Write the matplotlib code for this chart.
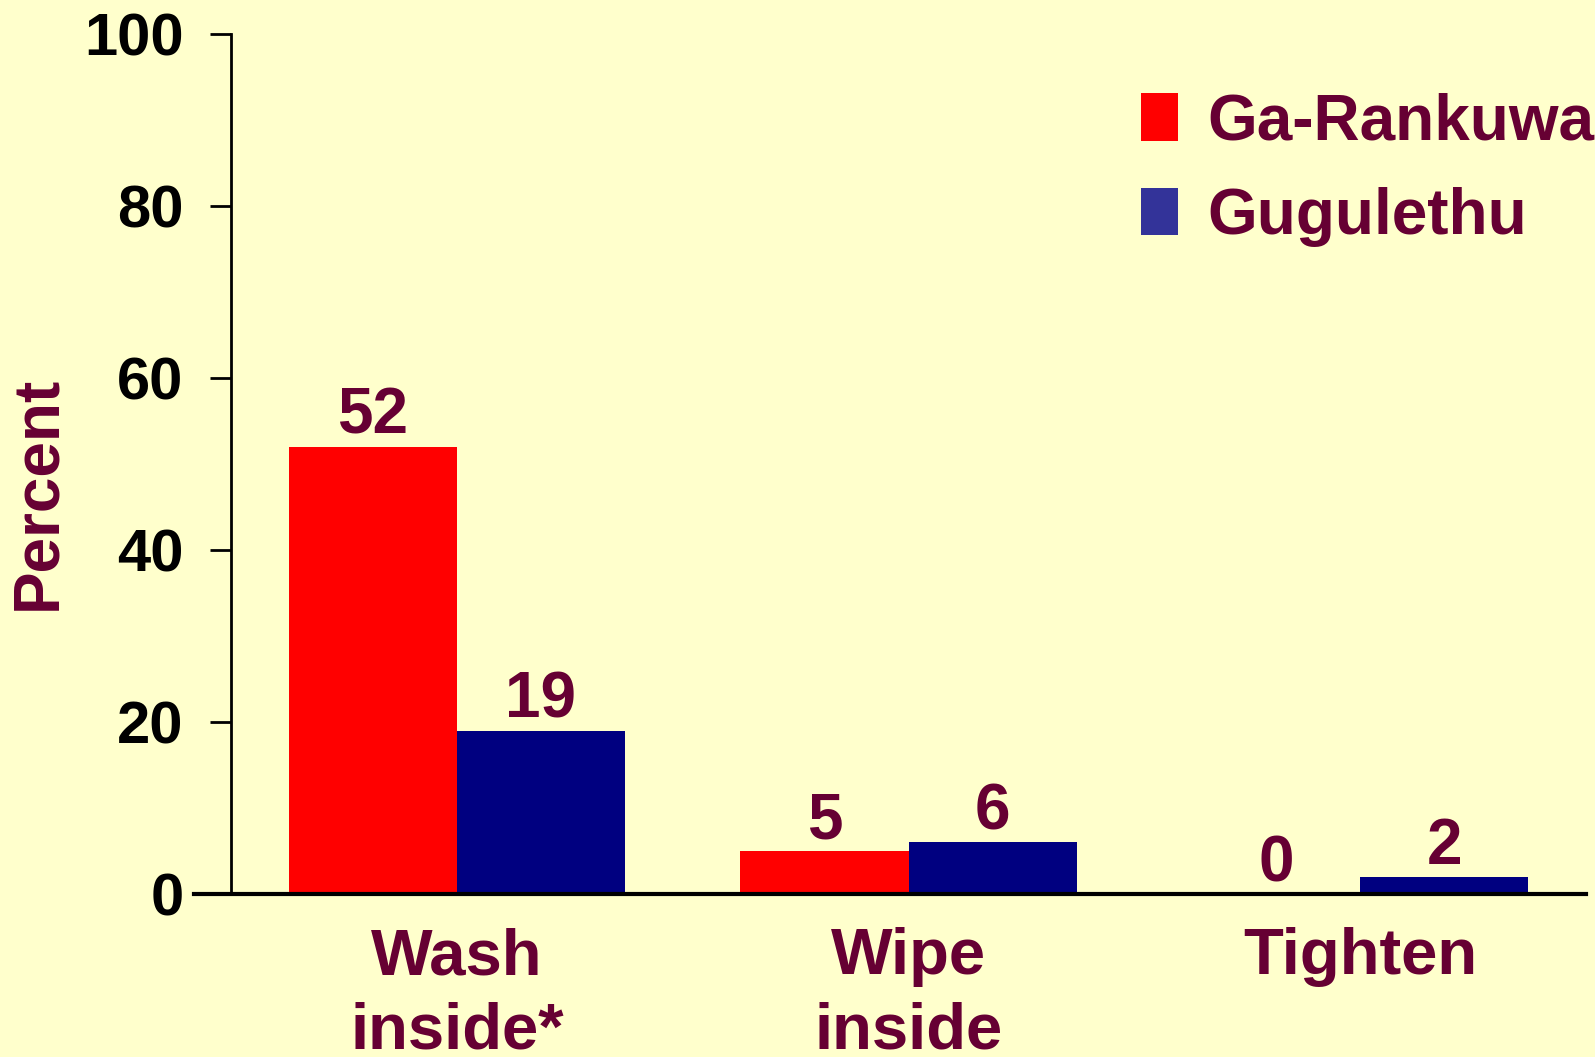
import numpy as np
import matplotlib
matplotlib.use('Agg')
import matplotlib.pyplot as plt
from matplotlib.patches import Patch

# data
categories = ['Wash\ninside*', 'Wipe\ninside', 'Tighten']
series_names = ['Ga-Rankuwa', 'Gugulethu']
ga_rankuwa = [52, 5, 0]
gugulethu = [19, 6, 2]

bg = '#FFFFCC'
maroon = '#660033'
red = '#FF0000'
navy = '#000080'

plt.rcParams['font.family'] = ['Liberation Sans', 'DejaVu Sans']
plt.rcParams['font.weight'] = 'bold'

fig = plt.figure(figsize=(15.95, 10.57), dpi=100, facecolor=bg)
ax = fig.add_axes([0.1448, 0.1542, 0.8496, 0.8138], facecolor=bg)

x = np.arange(len(categories))
w = 0.372
b1 = ax.bar(x - w / 2, ga_rankuwa, w, color=red)
b2 = ax.bar(x + w / 2, gugulethu, w, color=navy)

# value labels above bars
for bars, vals in [(b1, ga_rankuwa), (b2, gugulethu)]:
    for bar, v in zip(bars, vals):
        ax.text(bar.get_x() + bar.get_width() / 2, v, str(v),
                ha='center', va='bottom', fontsize=46, fontweight='bold', color=maroon)

ax.set_xlim(-0.5, 2.5)
ax.set_ylim(0, 100)
ax.set_yticks(range(0, 101, 20))
ax.tick_params(axis='y', labelsize=43, colors='black', length=15, width=2, pad=19)
for lbl in ax.get_yticklabels():
    lbl.set_fontweight('bold')

ax.set_xticks(x)
ax.set_xticklabels(categories, fontsize=47, fontweight='bold', color=maroon, linespacing=1.3)
ax.tick_params(axis='x', length=0, pad=24)

ax.spines['top'].set_visible(False)
ax.spines['right'].set_visible(False)
ax.spines['bottom'].set_visible(False)
ax.spines['left'].set_linewidth(2)
ax.axhline(0, xmin=-0.027, xmax=1, color='black', lw=3, clip_on=False)

ax.set_ylabel('Percent', fontsize=46, fontweight='bold', color=maroon)
ax.yaxis.set_label_coords(-0.120, 0.466)

handles = [Patch(facecolor=red), Patch(facecolor='#333399')]
leg = ax.legend(handles, series_names, loc='upper left', bbox_to_anchor=(0.653, 0.962),
                frameon=False, fontsize=46, handlelength=0.58, handleheight=0.77,
                handletextpad=0.45, labelspacing=0.54, borderaxespad=0)
for t in leg.get_texts():
    t.set_color(maroon)
    t.set_fontweight('bold')

fig.savefig('out.png', dpi=100, facecolor=bg)
